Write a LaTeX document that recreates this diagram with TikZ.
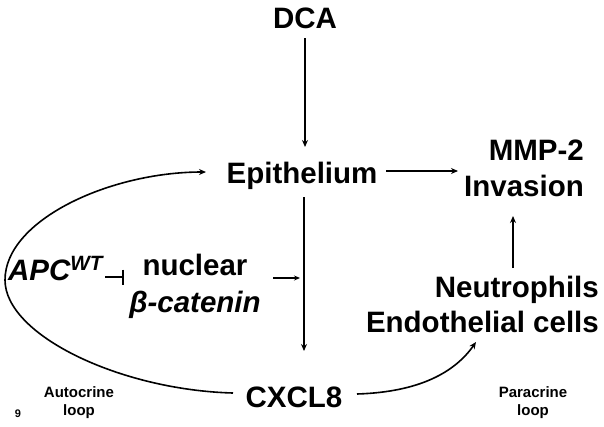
\documentclass[tikz,border=0pt]{standalone}
\usepackage{fontspec}
\setmainfont{Liberation Sans}
\usetikzlibrary{arrows.meta}
\begin{document}
\begin{tikzpicture}[x=1pt,y=-1pt,
  lbl/.style={font=\fontsize{29.5}{34}\selectfont\bfseries, inner sep=0pt, anchor=base},
  small/.style={font=\fontsize{15}{18}\selectfont\bfseries, inner sep=0pt, anchor=base},
  arr/.style={line width=1.6pt, -{Stealth[length=7pt,width=6pt]}},
  inh/.style={line width=1.6pt, -{Bar[width=15pt]}}]
\useasboundingbox (0,0) rectangle (604,426);
\node[lbl] (dca) at (305,28) {DCA};
\node[lbl] (epi) at (302,183) {Epithelium};
\node[lbl,anchor=base east] (mmp) at (584,160) {MMP-2};
\node[lbl,anchor=base east] (inv) at (584,196) {Invasion};
\node[lbl,anchor=base east] (neu) at (599,297) {Neutrophils};
\node[lbl,anchor=base east] (endo) at (599,332) {Endothelial cells};
\node[lbl] (nuc) at (195,275) {nuclear};
\node[lbl] (bcat) at (195,312) {\itshape β-catenin};
\node[lbl,anchor=base west] (apc) at (8,280) {\itshape APC\textsuperscript{WT}};
\node[lbl] (cx) at (294,407) {CXCL8};
\node[small] (auto1) at (79,397) {Autocrine};
\node[small] (auto2) at (79,415) {loop};
\node[small] (para1) at (533,397) {Paracrine};
\node[small] (para2) at (533,415) {loop};
\node[font=\fontsize{11}{13}\selectfont\bfseries, inner sep=0pt, anchor=base] (nine) at (18,417) {9};

\coordinate (dcaend) at (305,38);
\coordinate (epitop) at (305,147);
\draw[arr] (dcaend) -- (epitop);
\coordinate (epibot) at (304,197);
\coordinate (cxtop) at (304,351);
\draw[arr] (epibot) -- (cxtop);
\coordinate (e1) at (386,171);
\coordinate (e2) at (458,171);
\draw[arr] (e1) -- (e2);
\coordinate (n1) at (513,268);
\coordinate (n2) at (513,216);
\draw[arr] (n1) -- (n2);
\coordinate (s1) at (273,278);
\coordinate (s2) at (300,278);
\draw[line width=1.6pt, -{Stealth[length=6pt,width=5pt]}] (s1) -- (s2);
\coordinate (i1) at (105,277);
\coordinate (i2) at (124,277);
\draw[inh] (i1) -- (i2);
\coordinate (c1) at (233,393);
\coordinate (lft) at (5,280);
\coordinate (ep) at (206,172);
\draw[arr] (c1) .. controls (120,390) and (5,335) .. (lft)
  .. controls (5,220) and (110,172) .. (ep);
\coordinate (p1) at (357,394);
\coordinate (p2) at (476,342);
\draw[arr] (p1) .. controls (420,392) and (455,372) .. (p2);
\end{tikzpicture}
\end{document}
